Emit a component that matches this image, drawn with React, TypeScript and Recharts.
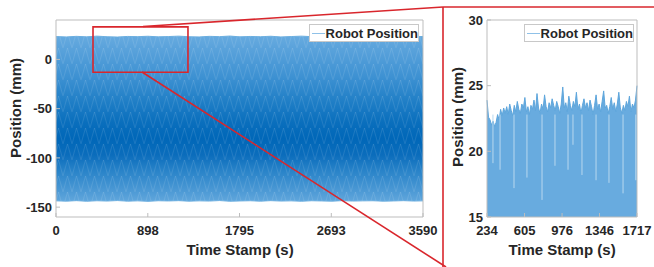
import React from 'react';
import { ComposedChart, Area, XAxis, YAxis, ReferenceArea, ReferenceLine } from 'recharts';

const FONT = '"Liberation Sans", Arial, Helvetica, sans-serif';
const TXT = '#262626';
const BOX = '#bdbdbd';
const RED = '#d9262c';

// ---- main panel (full recording) ----
const mainTimes = [0, 100, 200, 300, 400, 500, 600, 700, 800, 900, 1000, 1100, 1200, 1300, 1400, 1500, 1600, 1700, 1800, 1900, 2000, 2100, 2200, 2300, 2400, 2500, 2600, 2700, 2800, 2900, 3000, 3100, 3200, 3300, 3400, 3500, 3590];
const mainUpper = [23.2, 22.8, 23.4, 22.9, 23.6, 23.0, 22.7, 23.3, 23.1, 23.5, 22.9, 23.2, 23.6, 23.0, 22.8, 23.4, 23.1, 23.7, 22.9, 23.3, 23.0, 23.5, 22.8, 23.2, 23.6, 23.1, 22.9, 23.4, 23.0, 23.3, 22.8, 23.5, 23.1, 23.2, 23.6, 22.9, 23.3];
const mainLower = [-143.6, -143.9, -143.4, -144.0, -143.5, -143.8, -143.3, -143.9, -143.6, -144.1, -143.5, -143.7, -143.4, -143.9, -143.6, -143.8, -143.3, -144.0, -143.7, -143.5, -143.9, -143.4, -143.8, -143.6, -144.0, -143.5, -143.7, -143.9, -143.4, -143.8, -143.6, -143.5, -143.9, -143.7, -143.4, -143.8, -143.6];
const mainXTicks = [0, 898, 1795, 2693, 3590];
const mainYTicks = [-150, -100, -50, 0];
const mainXDomain = [0, 3590];
const mainYDomain = [-160, 40];
const zoomBoxT = [362, 1291];
const zoomBoxV = [-13, 33];

// ---- zoomed panel ----
const zoomStart = 234;
const zoomEnd = 1717;
const zoomTop = [
  23.9, 22.6, 22.4, 22.0, 22.3, 21.9, 22.2, 22.8, 22.4, 23.2,
  22.7, 23.3, 22.9, 23.4, 22.8, 23.6, 23.1, 22.7, 23.5, 23.0,
  23.8, 23.2, 22.9, 23.6, 23.3, 24.1, 23.0, 23.4, 22.8, 23.5,
  23.2, 23.9, 23.1, 24.4, 23.3, 22.9, 23.6, 23.2, 24.3, 23.4,
  23.0, 23.7, 23.3, 24.0, 23.5, 23.1, 23.8, 23.4, 22.9, 23.6,
  24.9, 23.3, 23.7, 23.0, 24.2, 23.5, 23.1, 23.8, 23.4, 24.5,
  23.2, 23.6, 22.9, 23.5, 24.0, 23.3, 23.7, 23.1, 23.9, 23.4,
  22.8, 23.5, 24.3, 23.2, 23.6, 23.0, 23.8, 24.6, 23.3, 23.5,
  22.9, 23.4, 24.1, 23.2, 23.7, 23.0, 23.6, 24.5, 23.3, 22.9,
  23.5, 23.1, 23.8, 23.4, 24.2, 23.0, 23.6, 23.3, 23.9, 25.0,
];
const zoomDipTimes = [293, 363, 501, 629, 778, 906, 1035, 1084, 1173, 1312, 1440, 1579, 1705];
const zoomDipLows = [19.1, 18.6, 17.2, 18.0, 16.3, 18.9, 18.6, 20.5, 18.2, 17.8, 17.6, 16.8, 17.8];
const zoomXTicks = [234, 605, 976, 1346, 1717];
const zoomYTicks = [15, 20, 25, 30];

const seriesName = 'Robot Position';
const xTitle = 'Time Stamp (s)';
const yTitle = 'Position (mm)';

const mainData = mainTimes.map((t, i) => ({ t, band: [mainLower[i], mainUpper[i]] }));
const zoomData = zoomTop.map((v, i) => ({ t: zoomStart + (i * (zoomEnd - zoomStart)) / (zoomTop.length - 1), v }));

const tickStyle = { fontSize: 13, fontWeight: 'bold', fill: TXT, fontFamily: FONT } as any;

const LegendBox = ({ left, top }: { left: number; top: number }) => (
  <div
    style={{
      position: 'absolute',
      left,
      top,
      display: 'flex',
      alignItems: 'center',
      background: '#fff',
      border: '1px solid #c8c8c8',
      height: 18,
      width: 110,
      boxSizing: 'border-box',
      fontFamily: FONT,
      fontWeight: 'bold',
      fontSize: 13,
      color: TXT,
    }}
  >
    <span style={{ display: 'inline-block', width: 15, height: 0, borderTop: '1px solid #8fc1e8', marginLeft: 2, marginRight: 1 }} />
    <span style={{ whiteSpace: 'nowrap' }}>{seriesName}</span>
  </div>
);

export default function App() {
  return (
    <div style={{ position: 'absolute', left: 0, top: 0, width: 654, height: 267, background: '#fff', overflow: 'hidden' }}>
      <div style={{ position: 'absolute', left: 0, top: 0 }}>
        <ComposedChart width={440} height={267} data={mainData} margin={{ top: 20, right: 17, bottom: 0, left: 0 }}>
          <defs>
            <linearGradient id="mainGrad" x1="0" y1="0" x2="0" y2="1">
              <stop offset="0%" stopColor="#66aadf" />
              <stop offset="10%" stopColor="#56a0da" />
              <stop offset="25%" stopColor="#3d91d2" />
              <stop offset="40%" stopColor="#1f7ec6" />
              <stop offset="52%" stopColor="#0a6fbd" />
              <stop offset="62%" stopColor="#0067b8" />
              <stop offset="72%" stopColor="#0b6dbc" />
              <stop offset="82%" stopColor="#2a84c9" />
              <stop offset="92%" stopColor="#4796d3" />
              <stop offset="100%" stopColor="#60a6dc" />
            </linearGradient>
            <pattern id="diamonds" width="9" height="16" patternUnits="userSpaceOnUse">
              <path d="M0 16 L4.5 0 L9 16" fill="none" stroke="#ffffff" strokeOpacity="0.1" strokeWidth="1" />
            </pattern>
          </defs>
          <XAxis
            dataKey="t"
            type="number"
            domain={mainXDomain}
            ticks={mainXTicks}
            height={50}
            axisLine={false}
            tickLine={{ stroke: BOX }}
            tickSize={-4}
            tickMargin={12.5}
            tick={tickStyle}
            interval={0}
          />
          <XAxis xAxisId="top" orientation="top" type="number" domain={mainXDomain} ticks={mainXTicks} height={0} axisLine={false} tick={false} tickLine={{ stroke: BOX }} tickSize={-4} />
          <YAxis
            type="number"
            domain={mainYDomain}
            ticks={mainYTicks}
            width={56}
            axisLine={false}
            tickLine={{ stroke: BOX }}
            tickSize={-4}
            tickMargin={8}
            tick={tickStyle}
            interval={0}
          />
          <YAxis yAxisId="right" orientation="right" type="number" domain={mainYDomain} ticks={mainYTicks} width={0} axisLine={false} tick={false} tickLine={{ stroke: BOX }} tickSize={-4} />
          <Area dataKey="band" type="linear" stroke="#6aaee0" strokeWidth={1} fill="url(#mainGrad)" fillOpacity={1} isAnimationActive={false} dot={false} activeDot={false} />
          <Area dataKey="band" type="linear" stroke="none" fill="url(#diamonds)" fillOpacity={1} isAnimationActive={false} dot={false} activeDot={false} legendType="none" />
          <ReferenceArea x1={mainXDomain[0]} x2={mainXDomain[1]} y1={mainYDomain[0]} y2={mainYDomain[1]} fill="none" stroke={BOX} strokeWidth={1} />
          <ReferenceArea x1={zoomBoxT[0]} x2={zoomBoxT[1]} y1={zoomBoxV[0]} y2={zoomBoxV[1]} fill="none" fillOpacity={0} stroke={RED} strokeWidth={1.6} />
        </ComposedChart>
      </div>

      <div style={{ position: 'absolute', left: 440, top: 0 }}>
        <ComposedChart width={214} height={267} data={zoomData} margin={{ top: 20, right: 17, bottom: 0, left: 0 }}>
          <XAxis
            dataKey="t"
            type="number"
            domain={[zoomStart, zoomEnd]}
            ticks={zoomXTicks}
            height={50}
            axisLine={false}
            tickLine={{ stroke: BOX }}
            tickSize={-4}
            tickMargin={12.5}
            tick={tickStyle}
            interval={0}
          />
          <XAxis xAxisId="top" orientation="top" type="number" domain={[zoomStart, zoomEnd]} ticks={zoomXTicks} height={0} axisLine={false} tick={false} tickLine={{ stroke: BOX }} tickSize={-4} />
          <YAxis
            type="number"
            domain={[15, 30]}
            ticks={zoomYTicks}
            width={47}
            axisLine={false}
            tickLine={{ stroke: BOX }}
            tickSize={-4}
            tickMargin={8}
            tick={tickStyle}
            interval={0}
          />
          <YAxis yAxisId="right" orientation="right" type="number" domain={[15, 30]} ticks={zoomYTicks} width={0} axisLine={false} tick={false} tickLine={{ stroke: BOX }} tickSize={-4} />
          <Area dataKey="v" type="linear" baseValue={15} stroke="#5ea6dc" strokeWidth={1} fill="#68abdf" fillOpacity={1} isAnimationActive={false} dot={false} activeDot={false} />
          {zoomDipTimes.map((t, i) => (
            <ReferenceLine key={i} segment={[{ x: t, y: 22.8 }, { x: t, y: zoomDipLows[i] }]} stroke="#b8d8ef" strokeWidth={1} />
          ))}
          <ReferenceArea x1={zoomStart} x2={zoomEnd} y1={15} y2={30} fill="none" stroke={BOX} strokeWidth={1} />
        </ComposedChart>
      </div>

      <LegendBox left={309} top={24} />
      <LegendBox left={524} top={24} />

      <svg width={654} height={267} style={{ position: 'absolute', left: 0, top: 0, pointerEvents: 'none' }}>
        <line x1={143} y1={26.5} x2={443} y2={7} stroke={RED} strokeWidth={1.6} />
        <line x1={142} y1={72} x2={446} y2={267} stroke={RED} strokeWidth={1.6} />
        <line x1={443} y1={7} x2={443} y2={267} stroke={RED} strokeWidth={1.6} />
        <line x1={443} y1={7} x2={654} y2={7} stroke={RED} strokeWidth={1.6} />
        <text x={240} y={255} textAnchor="middle" fontFamily={FONT} fontWeight="bold" fontSize={15} fill={TXT}>{xTitle}</text>
        <text x={562} y={255} textAnchor="middle" fontFamily={FONT} fontWeight="bold" fontSize={15} fill={TXT}>{xTitle}</text>
        <text transform="translate(21,108) rotate(-90)" textAnchor="middle" fontFamily={FONT} fontWeight="bold" fontSize={15} fill={TXT}>{yTitle}</text>
        <text transform="translate(463,117) rotate(-90)" textAnchor="middle" fontFamily={FONT} fontWeight="bold" fontSize={15} fill={TXT}>{yTitle}</text>
      </svg>
    </div>
  );
}
